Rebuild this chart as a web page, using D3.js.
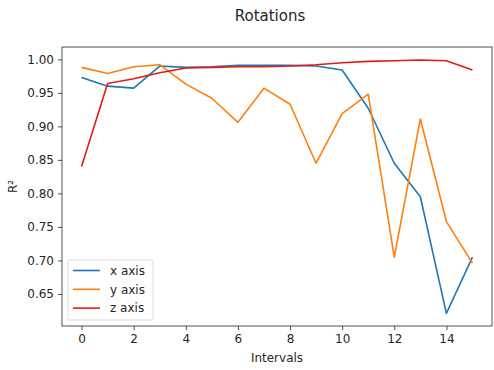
<!DOCTYPE html>
<html>
<head>
<meta charset="utf-8">
<script src="https://cdn.jsdelivr.net/npm/d3@7"></script>
<style>
  body { margin: 0; background: #fff; }
  svg text { font-family: 'DejaVu Sans', sans-serif; fill: #262626; }
</style>
</head>
<body>
<div id="chart"></div>
<script>

/* Data */
/* ---- */

var intervals = d3.range(0, 16);
var xAxisVals = [0.973, 0.960, 0.957, 0.990, 0.988, 0.989, 0.991, 0.991, 0.991, 0.990, 0.984, 0.927, 0.845, 0.795, 0.621, 0.705];
var yAxisVals = [0.988, 0.979, 0.989, 0.992, 0.963, 0.942, 0.906, 0.957, 0.933, 0.845, 0.919, 0.948, 0.705, 0.911, 0.758, 0.696];
var zAxisVals = [0.840, 0.964, 0.971, 0.980, 0.987, 0.988, 0.989, 0.989, 0.990, 0.992, 0.995, 0.997, 0.998, 0.999, 0.998, 0.984];
var seriesNames = ['x axis', 'y axis', 'z axis'];
var seriesColours = ['#1f77b4', '#ff7f0e', '#e31a1c'];
var yTicks = [0.65, 0.70, 0.75, 0.80, 0.85, 0.90, 0.95, 1.00];
var xTicks = [0, 2, 4, 6, 8, 10, 12, 14];


/* Setup */
/* ----- */

var width = 494, height = 370;
var margin = { top: 47, right: 2, bottom: 44, left: 62 };
var w = width - margin.left - margin.right,
    h = height - margin.top - margin.bottom;

var svg = d3.select('#chart').append('svg')
    .attr('width', width)
    .attr('height', height);

var g = svg.append('g').attr('transform', 'translate(' + margin.left + ',' + margin.top + ')');

var x = d3.scaleLinear().domain([-0.75, 15.75]).range([0, w]);
var y = d3.scaleLinear().domain([0.6022, 1.0184]).range([h, 0]);

var series = [xAxisVals, yAxisVals, zAxisVals].map(function(vals, i) {
  return { name: seriesNames[i], colour: seriesColours[i], values: vals };
});


/* Axes */
/* ---- */

var xAxis = g.append('g')
    .attr('transform', 'translate(0,' + h + ')')
    .call(d3.axisBottom(x).tickValues(xTicks).tickSize(4).tickPadding(4).tickFormat(d3.format('d')));

var yAxis = g.append('g')
    .call(d3.axisLeft(y).tickValues(yTicks).tickSize(4).tickPadding(4).tickFormat(d3.format('.2f')));

[xAxis, yAxis].forEach(function(a) {
  a.select('.domain').remove();
  a.selectAll('line').attr('stroke', '#262626').attr('stroke-width', 0.8);
  a.selectAll('text').style('font-size', '12px').attr('fill', '#262626');
});

// frame
g.append('rect')
    .attr('width', w).attr('height', h)
    .attr('fill', 'none')
    .attr('stroke', '#262626')
    .attr('stroke-width', 0.8);


/* Lines */
/* ----- */

var line = d3.line()
    .x(function(d, i) { return x(intervals[i]); })
    .y(function(d) { return y(d); });

g.selectAll('.series')
    .data(series)
  .enter().append('path')
    .attr('class', 'series')
    .attr('d', function(d) { return line(d.values); })
    .attr('fill', 'none')
    .attr('stroke', function(d) { return d.colour; })
    .attr('stroke-width', 1.6)
    .attr('stroke-linejoin', 'round');


/* Labels */
/* ------ */

svg.append('text')
    .attr('x', 270).attr('y', 21)
    .attr('text-anchor', 'middle')
    .style('font-size', '15px')
    .text('Rotations');

svg.append('text')
    .attr('x', margin.left + w / 2).attr('y', 362)
    .attr('text-anchor', 'middle')
    .style('font-size', '12px')
    .text('Intervals');

svg.append('text')
    .attr('transform', 'translate(17,' + (margin.top + h / 2) + ') rotate(-90)')
    .attr('text-anchor', 'middle')
    .style('font-size', '12px')
    .text('R²');


/* Legend */
/* ------ */

var legend = svg.append('g').attr('transform', 'translate(68,260)');

legend.append('rect')
    .attr('width', 85).attr('height', 60)
    .attr('rx', 2)
    .attr('fill', '#fff').attr('fill-opacity', 0.8)
    .attr('stroke', '#d0d0d0').attr('stroke-width', 0.8);

var items = legend.selectAll('.item')
    .data(series)
  .enter().append('g')
    .attr('transform', function(d, i) { return 'translate(0,' + (10.5 + i * 18.8) + ')'; });

items.append('line')
    .attr('x1', 5).attr('x2', 32)
    .attr('stroke', function(d) { return d.colour; })
    .attr('stroke-width', 1.6);

items.append('text')
    .attr('x', 42).attr('dy', '0.35em')
    .style('font-size', '12px')
    .text(function(d) { return d.name; });

</script>
</body>
</html>
